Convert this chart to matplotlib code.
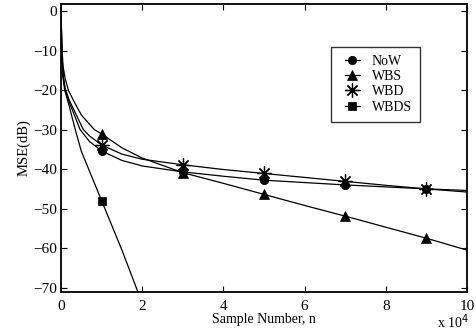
import numpy as np
import matplotlib.pyplot as plt
from matplotlib.legend_handler import HandlerLine2D

plt.rcParams["font.family"] = ["Liberation Serif", "DejaVu Serif"]

# curve samples (x in units of 1e4 samples, MSE in dB)
now_x = [0, 0.02, 0.05, 0.1, 0.2, 0.47, 0.7, 1, 1.5, 2, 3, 4, 5, 6, 7, 8, 9, 10]
now_y = [0, -11, -16.5, -20, -23, -30, -33, -35.4, -37.8, -39.2, -40.7, -41.8, -42.8, -43.4, -44.0, -44.5, -45.0, -45.4]

wbs_x = [0, 0.02, 0.05, 0.1, 0.18, 0.3, 0.5, 0.82, 1, 1.5, 2, 3, 4, 5, 6, 7, 8, 9, 10]
wbs_y = [0, -9, -14, -17, -20, -22.5, -26.3, -30, -31.1, -34.6, -37.2, -40.9, -43.6, -46.4, -49.2, -51.9, -54.7, -57.5, -60.5]

wbd_x = [0, 0.02, 0.05, 0.1, 0.2, 0.55, 0.7, 1, 1.5, 2, 3, 4, 5, 6, 7, 8, 9, 10]
wbd_y = [0, -10.5, -16, -19.5, -22.5, -30, -31.6, -33.9, -36.2, -37.5, -38.9, -40.1, -41.1, -42.1, -43.1, -44.1, -45.0, -45.8]

wbds_x = [0, 0.02, 0.05, 0.09, 0.2, 0.35, 0.5, 0.7, 1, 1.5, 1.89, 2.0]
wbds_y = [0, -11.5, -17, -20, -24, -30, -35.5, -40.5, -48, -60.5, -71, -74]

mark_x = [1, 3, 5, 7, 9]

series = [
    ("NoW", now_x, now_y, "o", 6),
    ("WBS", wbs_x, wbs_y, "^", 6.5),
    ("WBD", wbd_x, wbd_y, (8, 2, 0), 10),
    ("WBDS", wbds_x, wbds_y, "s", 5.5),
]

fig = plt.figure(figsize=(4.77, 3.34), dpi=100)
ax = fig.add_axes([0.128, 0.127, 0.851, 0.861])

for name, xs, ys, m, size in series:
    # markers only at the round sample counts
    ms = [i for i, v in enumerate(xs) if v in mark_x]
    ax.plot(np.array(xs) * 1e4, ys, color="black", lw=0.9, marker=m,
            markevery=ms, markersize=size,
            markeredgewidth=0.9 if name == "WBD" else 0.5, label=name)

ax.set_xlim(0, 1e5)
ax.set_ylim(-71, 1.8)
ax.set_xticks(np.arange(0, 1.01e5, 2e4))
ax.set_xticklabels(["0", "2", "4", "6", "8", "10"])
ax.set_yticks(np.arange(-70, 1, 10))
ax.tick_params(direction="in", top=True, right=True, labelsize=11,
               length=4, width=0.8)
ax.tick_params(axis="x", pad=6)
ax.tick_params(axis="y", pad=3)
for s in ax.spines.values():
    s.set_linewidth(1.3)

ax.set_xlabel("Sample Number, n", fontsize=10, labelpad=0)
ax.set_ylabel("MSE(dB)", fontsize=10.5, labelpad=2)
ax.text(0.966, -0.128, r"x 10$^4$", transform=ax.transAxes, fontsize=10,
        ha="center", va="baseline")

leg = ax.legend(loc="upper left", bbox_to_anchor=(0.665, 0.852), fontsize=10,
                frameon=True, fancybox=False, edgecolor="black",
                handlelength=1.5, borderpad=0.58, labelspacing=0.17,
                handletextpad=0.85, borderaxespad=0,
                handler_map={plt.Line2D: HandlerLine2D(xpad=0.4)})
leg.get_frame().set_linewidth(1.0)

fig.savefig("out.png", dpi=100)
